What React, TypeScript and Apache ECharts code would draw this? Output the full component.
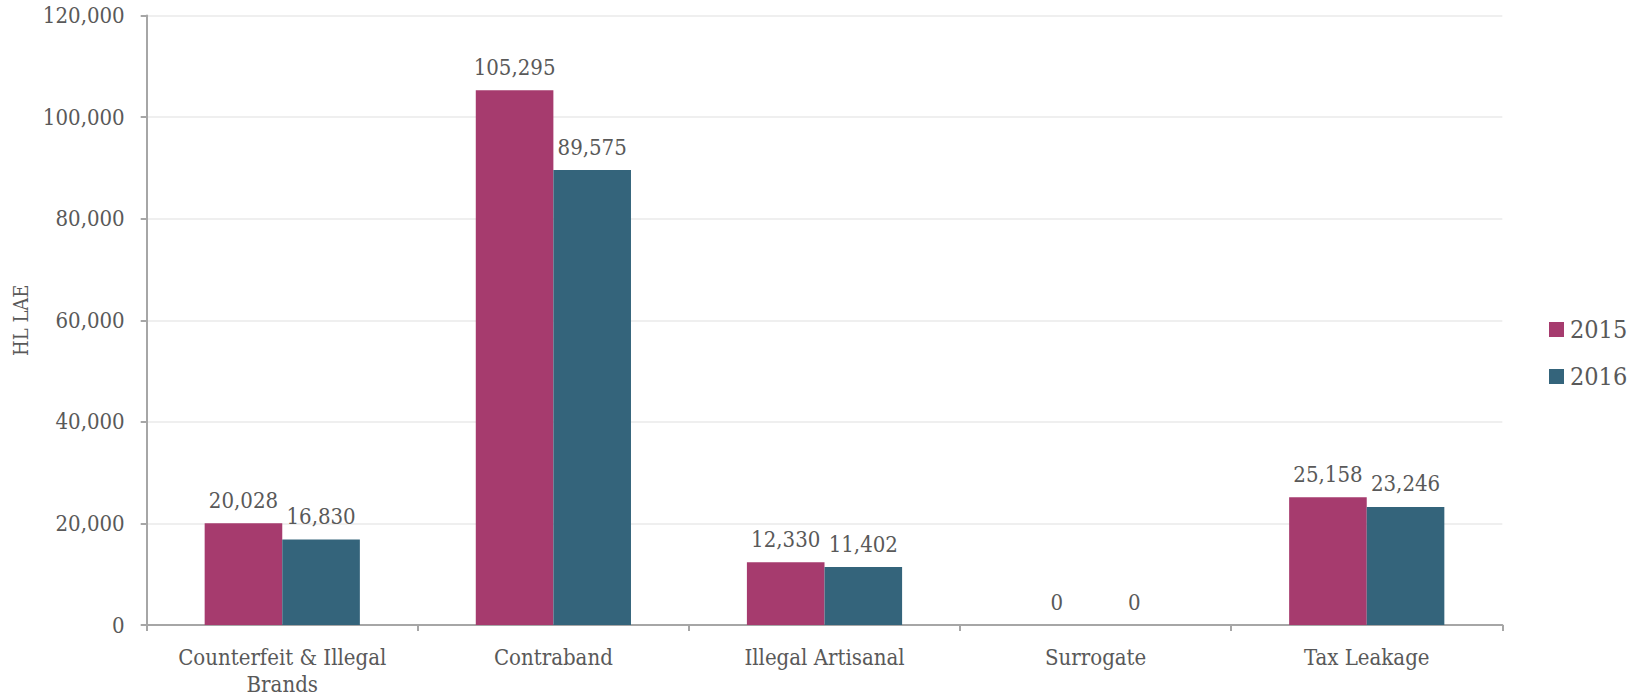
import React, { useEffect, useRef } from "react";
import * as echarts from "echarts";

// Illicit alcohol volume by category, HL LAE
const categories = [
  "Counterfeit & Illegal\nBrands",
  "Contraband",
  "Illegal Artisanal",
  "Surrogate",
  "Tax Leakage",
];
const values2015 = [20028, 105295, 12330, 0, 25158];
const values2016 = [16830, 89575, 11402, 0, 23246];
const seriesNames = ["2015", "2016"];
const yTicks = { min: 0, max: 120000, interval: 20000 };

const FONT = "'DejaVu Serif Condensed', 'DejaVu Serif', serif";
const TEXT = "#595959";
const COLORS = ["#A63B6E", "#34647B"];

const fmt = (v: number) => v.toLocaleString("en-US");

export default function App() {
  const ref = useRef<HTMLDivElement>(null);

  useEffect(() => {
    if (!ref.current) return;
    const chart = echarts.init(ref.current, undefined, { renderer: "svg" });

    const label = {
      show: true,
      position: "top" as const,
      distance: 12,
      color: TEXT,
      fontFamily: FONT,
      fontSize: 22,
      formatter: (p: any) => fmt(p.value),
    };

    chart.setOption({
      animation: false,
      backgroundColor: "#ffffff",
      textStyle: { fontFamily: FONT, color: TEXT },
      grid: { left: 146.7, right: 139.7, top: 15.5, bottom: 71.3, containLabel: false },
      legend: {
        orient: "vertical",
        left: 1544,
        top: 312,
        itemWidth: 15,
        itemHeight: 15,
        itemGap: 22,
        icon: "rect",
        textStyle: { fontFamily: FONT, fontSize: 25, color: TEXT, padding: [0, 0, 0, 1] },
        data: seriesNames,
      },
      xAxis: {
        type: "category",
        data: categories,
        axisLine: { lineStyle: { color: "#A6A6A6", width: 2 } },
        axisTick: { show: true, length: 6, lineStyle: { color: "#A6A6A6", width: 2 } },
        axisLabel: {
          color: TEXT,
          fontFamily: FONT,
          fontSize: 22,
          margin: 19,
          lineHeight: 27,
          interval: 0,
        },
        splitLine: { show: false },
      },
      yAxis: {
        type: "value",
        min: yTicks.min,
        max: yTicks.max,
        interval: yTicks.interval,
        name: "HL LAE",
        nameLocation: "middle",
        nameGap: 116,
        nameRotate: 90,
        nameTextStyle: { color: TEXT, fontFamily: FONT, fontSize: 20 },
        axisLine: { show: true, lineStyle: { color: "#A6A6A6", width: 2 } },
        axisTick: { show: true, length: 6, lineStyle: { color: "#A6A6A6", width: 2 } },
        axisLabel: {
          color: TEXT,
          fontFamily: FONT,
          fontSize: 22,
          margin: 22,
          formatter: (v: number) => fmt(v),
        },
        splitLine: { lineStyle: { color: "#EFEFEF", width: 2 } },
      },
      series: [
        {
          name: seriesNames[0],
          type: "bar",
          data: values2015,
          barWidth: 77.6,
          barGap: "0%",
          itemStyle: { color: COLORS[0] },
          label,
        },
        {
          name: seriesNames[1],
          type: "bar",
          data: values2016,
          barWidth: 77.6,
          barGap: "0%",
          itemStyle: { color: COLORS[1] },
          label,
        },
      ],
    });

    return () => chart.dispose();
  }, []);

  return <div ref={ref} style={{ width: 1642, height: 698, position: "absolute", left: 0, top: 0 }} />;
}
